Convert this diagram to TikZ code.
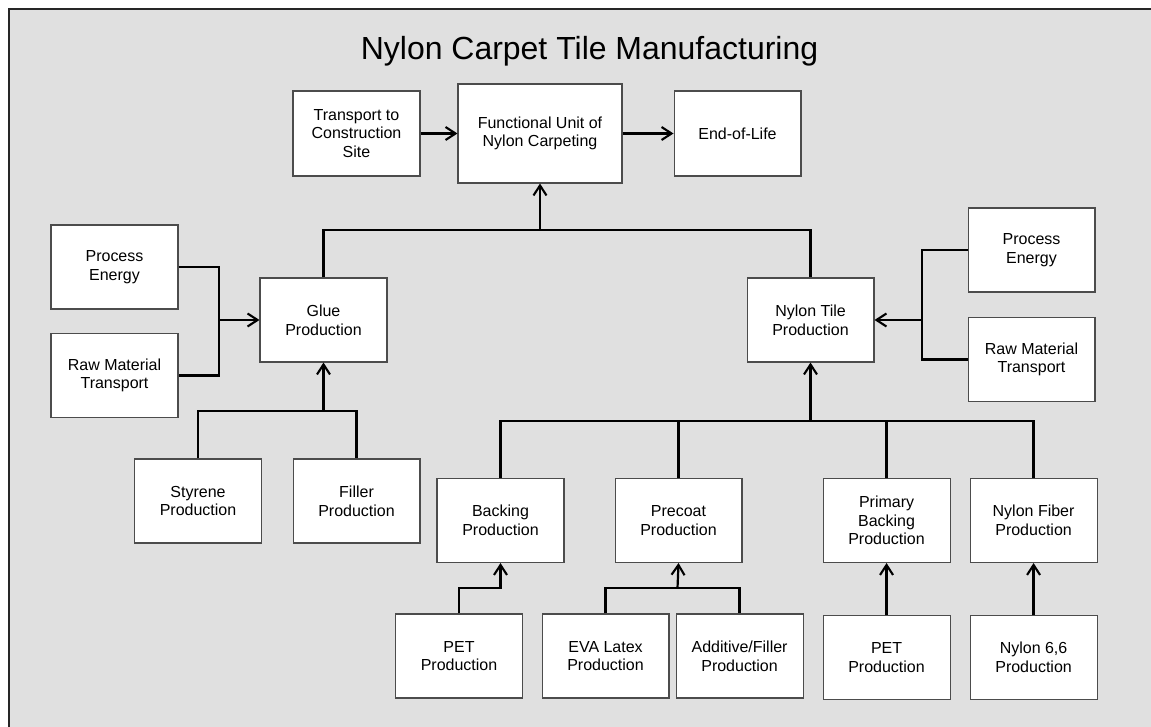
\documentclass[tikz,border=0pt]{standalone}
\usepackage{fontspec}
\setmainfont{Liberation Sans}
\usepackage{xcolor}
\usetikzlibrary{arrows.meta, positioning, calc}
\definecolor{panelgray}{RGB}{224,224,224}

\begin{document}
\begin{tikzpicture}[
  x=0.02cm, y=-0.02cm,
  block/.style={draw=black!70,line width=0.6pt,fill=white,align=center,
    minimum width=2.54cm,minimum height=1.68cm,inner sep=1pt,
    font=\fontsize{9.1}{10.6}\selectfont},
  line/.style={line width=1.25pt},
  arrow/.style={line width=1.25pt,-{Straight Barb[length=2mm,width=2.6mm,line width=1.2pt]}}
]
  \useasboundingbox (0,0) rectangle (1151,726);
  \draw[fill=panelgray,draw=black!85,line width=0.9pt] (9,9) rectangle (1180,760);
  \node[anchor=base,font=\fontsize{18.2}{22}\selectfont] (title) at (589.5,60) {Nylon Carpet Tile Manufacturing};

  % top row
  \node[block,minimum width=3.28cm,minimum height=1.98cm] (funit) at (540,133.5) {Functional Unit of\\Nylon Carpeting};
  \node[block,minimum height=1.7cm,left=0.74cm of funit] (transport) {Transport to\\Construction\\Site};
  \node[block,minimum height=1.7cm,right=1.02cm of funit] (eol) {End-of-Life};

  % glue side
  \node[block] (glue) at (323.5,320) {Glue\\Production};
  \node[block] (energyL) at (114.5,267) {Process\\Energy};
  \node[block,below=0.47cm of energyL] (rawL) {Raw Material\\Transport};
  \node[block] (styrene) at (198,501) {Styrene\\Production};
  \node[block,right=0.61cm of styrene] (filler) {Filler\\Production};

  % tile side
  \node[block] (tile) at (810.5,320) {Nylon Tile\\Production};
  \node[block] (energyR) at (1031.5,250) {Process\\Energy};
  \node[block,below=0.49cm of energyR] (rawR) {Raw Material\\Transport};
  \node[block] (backing) at (500.5,520.5) {Backing\\Production};
  \node[block,right=1.0cm of backing] (precoat) {Precoat\\Production};
  \node[block,right=1.6cm of precoat] (primary) {Primary\\Backing\\Production};
  \node[block,right=0.38cm of primary] (fiber) {Nylon Fiber\\Production};
  \node[block] (pet1) at (459,656) {PET\\Production};
  \node[block,right=0.37cm of pet1] (eva) {EVA Latex\\Production};
  \node[block,right=0.12cm of eva] (additive) {Additive/Filler\\Production};
  \node[block,below=1.04cm of primary] (pet2) {PET\\Production};
  \node[block,below=1.04cm of fiber] (nylon66) {Nylon 6,6\\Production};

  % junctions
  \coordinate (jtop) at (540,230);
  \coordinate (jglueL) at (219,320);
  \coordinate (jtileR) at (922,320);
  \coordinate (jglue) at (323.5,411);
  \coordinate (jtile) at (810.5,421);
  \coordinate (jback) at (500.5,588);
  \coordinate (jpre) at (677.5,588);

  \draw[arrow] (transport)--(funit); \draw[arrow] (funit)--(eol);
  \draw[line] (glue.north) |- (jtop) -| (tile.north);
  \draw[arrow] (jtop)--(funit.south);
  \draw[line] (energyL.east) -| (jglueL) |- (rawL.east);
  \draw[arrow] (jglueL)--(glue.west);
  \draw[line] (energyR.west) -| (jtileR) |- (rawR.west);
  \draw[arrow] (jtileR)--(tile.east);
  \draw[line] (styrene.north) |- (jglue) -| (filler.north);
  \draw[arrow] (jglue)--(glue.south);
  \draw[line] (backing.north) |- (jtile) -| (fiber.north);
  \draw[line] (precoat.north)--(precoat.north |- jtile);
  \draw[line] (primary.north)--(primary.north |- jtile);
  \draw[arrow] (jtile)--(tile.south);
  \draw[arrow] (pet1.north) |- (jback)--(backing.south);
  \draw[line] (eva.north) |- (jpre) -| (additive.north);
  \draw[arrow] (jpre)--(precoat.south);
  \draw[arrow] (pet2)--(primary); \draw[arrow] (nylon66)--(fiber);
\end{tikzpicture}
\end{document}
